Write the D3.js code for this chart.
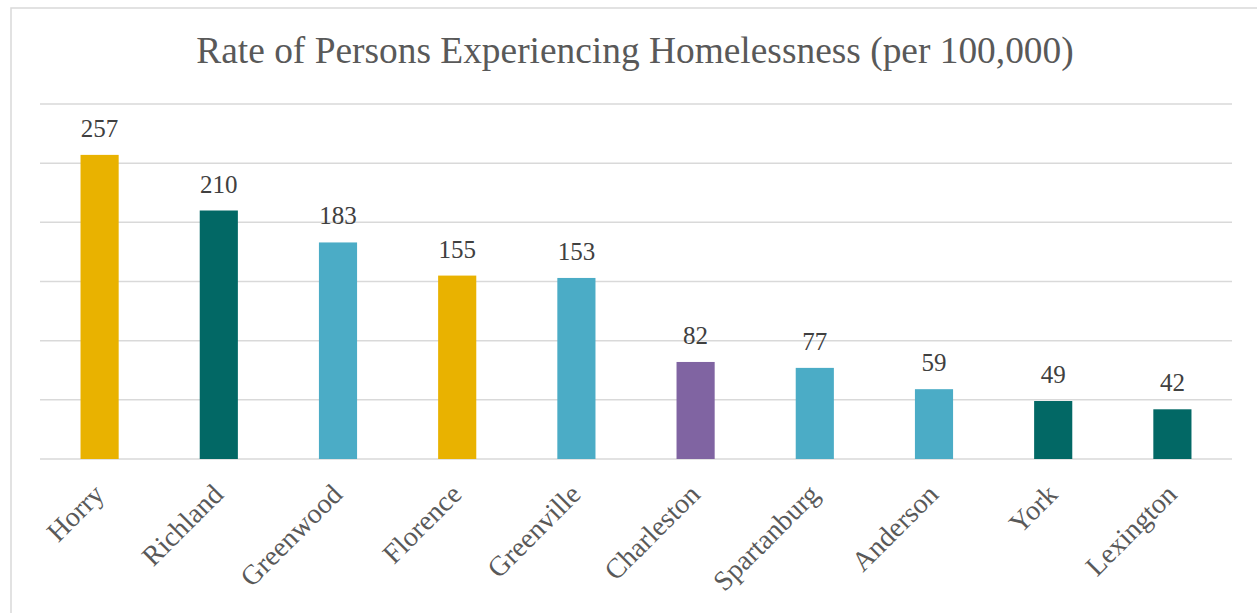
<!DOCTYPE html>
<html>
<head>
<meta charset="utf-8">
<script src="https://cdn.jsdelivr.net/npm/d3@7/dist/d3.min.js"></script>
<style>
  html, body { margin: 0; padding: 0; background: #fff; }
  svg { display: block; }
  text { font-family: "Liberation Serif", "Times New Roman", serif; }
</style>
</head>
<body>
<svg id="chart" width="1257" height="613"></svg>
<script>
// County rates of persons experiencing homelessness, per 100,000 residents
const counties = ["Horry", "Richland", "Greenwood", "Florence", "Greenville",
                  "Charleston", "Spartanburg", "Anderson", "York", "Lexington"];
const rates = [257, 210, 183, 155, 153, 82, 77, 59, 49, 42];
const barColors = ["#E9B200", "#026865", "#4BACC6", "#E9B200", "#4BACC6",
                   "#8064A2", "#4BACC6", "#4BACC6", "#026865", "#026865"];
const yTicks = [0, 50, 100, 150, 200, 250, 300];
const title = "Rate of Persons Experiencing Homelessness (per 100,000)";

const W = 1257, H = 613;
const plot = { left: 40, right: 1232, top: 104, bottom: 459 };

const svg = d3.select("#chart");

// chart area frame
svg.append("rect")
  .attr("x", 11).attr("y", 8)
  .attr("width", W + 20).attr("height", H + 20)
  .attr("fill", "#fff")
  .attr("stroke", "#d9d9d9").attr("stroke-width", 1.5);

const x = d3.scaleBand()
  .domain(counties)
  .range([plot.left, plot.right])
  .paddingInner(0.68)
  .paddingOuter(0.34);

const y = d3.scaleLinear()
  .domain([0, 300])
  .range([plot.bottom, plot.top]);

// horizontal gridlines
svg.append("g")
  .selectAll("line")
  .data(yTicks)
  .join("line")
  .attr("x1", plot.left).attr("x2", plot.right)
  .attr("y1", d => y(d)).attr("y2", d => y(d))
  .attr("stroke", "#d9d9d9").attr("stroke-width", 1.5);

// bars
svg.append("g")
  .selectAll("rect")
  .data(rates)
  .join("rect")
  .attr("x", (d, i) => x(counties[i]))
  .attr("width", x.bandwidth())
  .attr("y", d => y(d))
  .attr("height", d => y(0) - y(d))
  .attr("fill", (d, i) => barColors[i]);

// value labels
svg.append("g")
  .selectAll("text")
  .data(rates)
  .join("text")
  .attr("x", (d, i) => x(counties[i]) + x.bandwidth() / 2)
  .attr("y", d => y(d) - 18)
  .attr("text-anchor", "middle")
  .attr("font-size", 25)
  .attr("fill", "#404040")
  .text(d => d);

// category axis, labels rotated 45 degrees
const xAxis = d3.axisBottom(x).tickSize(0).tickPadding(0);
const gx = svg.append("g")
  .attr("transform", `translate(0,${plot.bottom})`)
  .call(xAxis);
gx.select(".domain").remove();
gx.selectAll(".tick text")
  .attr("font-family", "Liberation Serif, Times New Roman, serif")
  .attr("font-size", 28)
  .attr("fill", "#595959")
  .attr("text-anchor", "end")
  .attr("dy", 0)
  .attr("y", 0)
  .attr("transform", "translate(6,37) rotate(-45)");

// title
svg.append("text")
  .attr("x", 635).attr("y", 63)
  .attr("text-anchor", "middle")
  .attr("font-size", 37.4)
  .attr("fill", "#595959")
  .text(title);
</script>
</body>
</html>
